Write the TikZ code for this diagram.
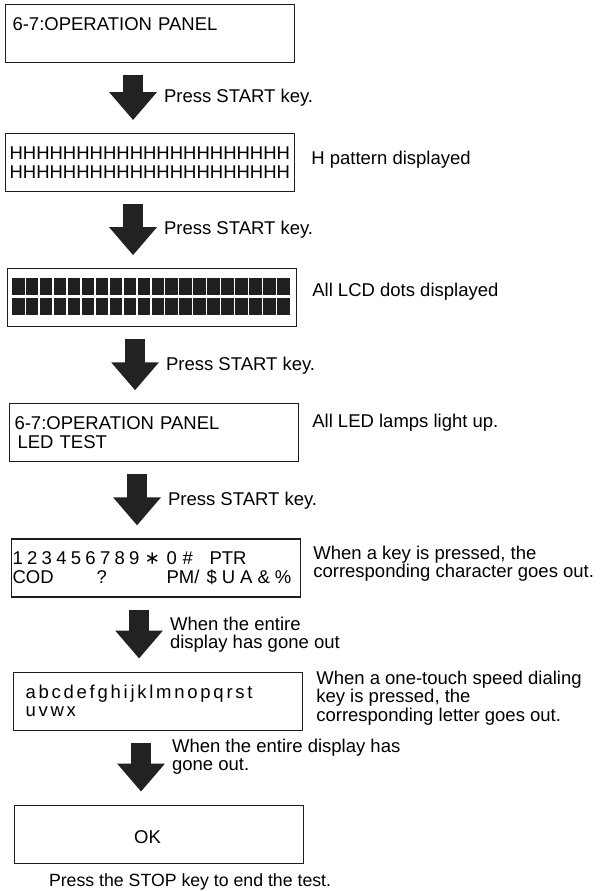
\documentclass[tikz,border=0pt]{standalone}
\usepackage{fontspec}
\setmainfont{Liberation Sans}
\newfontfamily\symfont{DejaVu Sans}
\usetikzlibrary{positioning,arrows.meta}
\definecolor{panelline}{HTML}{1E1E1E}
\definecolor{arrowdark}{HTML}{222222}
\definecolor{lcddot}{HTML}{202020}

\begin{document}
\begin{tikzpicture}[node distance=76pt,font=\fontsize{18.5}{18.5}\selectfont,
  panel/.style={draw=panelline,line width=1.1pt,minimum width=289pt,minimum height=58pt,align=left,text width=275pt,inner xsep=7pt},
  note/.style={align=left,inner sep=0pt},
  hint/.style={right=21pt,align=left,inner sep=0pt},
  bigarrow/.style={draw=arrowdark,line width=20pt,-{Triangle[width=46pt,length=28pt]},shorten <=12pt,shorten >=13pt}]
  \useasboundingbox (0,0) rectangle (604pt,-891pt);
  \node[panel,anchor=north west] (b1) at (5pt,-4pt) {6-7:OPERATION PANEL\\\mbox{}};
  \node[panel,below=70pt of b1,text width=281pt,inner xsep=4pt] (b2) {HHHHHHHHHHHHHHHHHHHHH\\HHHHHHHHHHHHHHHHHHHHH};
  \node[panel,below=of b2,xshift=2pt] (b3) {};
  \node[panel,below=of b3,xshift=2pt,text width=279pt,inner xsep=5pt] (b4) {6-7:OPERATION PANEL\\\hspace*{3pt}LED TEST};
  \node[panel,below=of b4,xshift=2pt,text width=287pt,inner xsep=1pt] (b5) {%
    \makebox[132pt][l]{\foreach \c in {1,...,9}{\c\kern4.3pt}}\makebox[22pt][l]{\symfont∗}\makebox[16pt][l]{0}\makebox[27pt][l]{\#}PTR\\
    \makebox[84pt][l]{COD}\makebox[70pt][l]{?}\makebox[40pt][l]{PM/}\$\kern5pt U\kern5pt A\kern5pt \&\kern5pt \%};
  \node[panel,below=74pt of b5,xshift=2pt,text width=265pt,inner xsep=12pt] (b6) {%
    \foreach \c in {a,b,c,d,e,f,g,h,i,j,k,l,m,n,o,p,q,r,s}{\c\kern2.75pt}t\\
    \foreach \c in {u,v,w}{\c\kern2.75pt}x};
  \node[panel,below=74pt of b6,xshift=1pt,align=center] (b7) {\mbox{}\\\hspace*{-23pt}OK};

  % LCD dots
  \foreach \i in {0,...,19}
    \foreach \r in {0,1}
      \fill[lcddot] ([xshift={5pt+\i*13.95pt},yshift={-10pt-\r*20pt}]b3.north west) rectangle ++(12.5pt,-16.5pt);

  % notes beside the panels
  \node[note,right=16pt of b2,yshift=3pt] (n2) {H pattern displayed};
  \node[note,right=15pt of b3,yshift=6pt] (n3) {All LCD dots displayed};
  \node[note,right=13pt of b4,yshift=10pt] (n4) {All LED lamps light up.};
  \node[note,right=12pt of b5,yshift=4pt] (n5) {When a key is pressed, the\\corresponding character goes out.};
  \node[note,right=13pt of b6,yshift=3pt] (n6) {When a one-touch speed dialing\\key is pressed, the\\corresponding letter goes out.};
  \node[note,below=10pt of b7,xshift=31pt,font=\fontsize{17.7}{18}\selectfont] (n7) {Press the STOP key to end the test.};

  \draw[bigarrow] ([xshift=-17pt]b1.south) -- ([xshift=-17pt]b1.south |- b2.north) node[hint,midway] {Press START key.};
  \draw[bigarrow] ([xshift=-17pt]b2.south) -- ([xshift=-17pt]b2.south |- b3.north) node[hint,midway] {Press START key.};
  \draw[bigarrow] ([xshift=-17pt]b3.south) -- ([xshift=-17pt]b3.south |- b4.north) node[hint,midway] {Press START key.};
  \draw[bigarrow] ([xshift=-17pt]b4.south) -- ([xshift=-17pt]b4.south |- b5.north) node[hint,midway] {Press START key.};
  \draw[bigarrow] ([xshift=-17pt]b5.south) -- ([xshift=-17pt]b5.south |- b6.north) node[hint,midway] {When the entire\\display has gone out};
  \draw[bigarrow] ([xshift=-17pt]b6.south) -- ([xshift=-17pt]b6.south |- b7.north) node[hint,pos=0.35] {When the entire display has\\gone out.};
\end{tikzpicture}
\end{document}
